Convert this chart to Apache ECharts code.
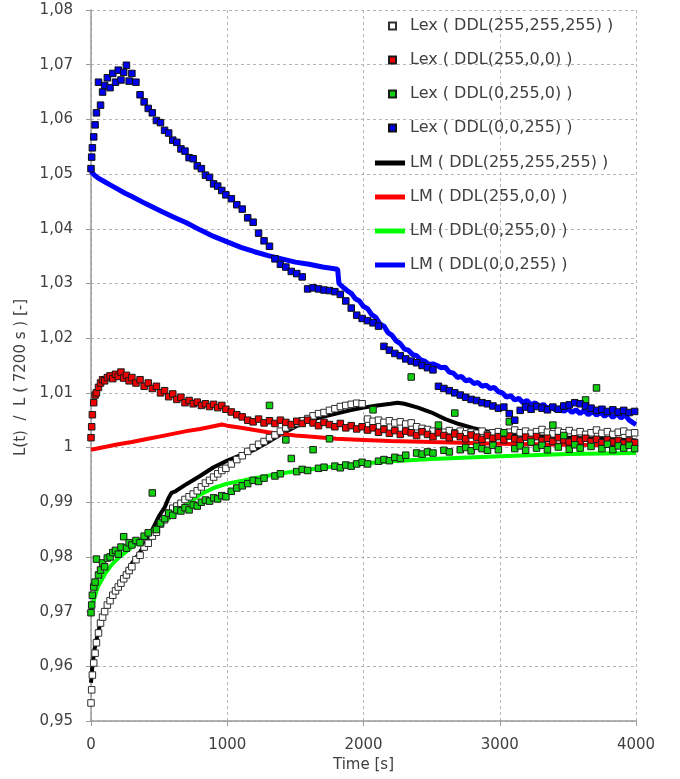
<!DOCTYPE html>
<html>
<head>
<meta charset="utf-8">
<script src="https://cdn.jsdelivr.net/npm/echarts@6/dist/echarts.min.js"></script>
<style>
html,body{margin:0;padding:0;background:#fff;}
#chart{width:680px;height:779px;}
</style>
</head>
<body>
<div id="chart"></div>
<script>
// ---- Data ----
// Sampling times of the measured (Lex) series, in s
var lexTime = [0,5,10,20,30,40,55,70,85,100,120,140,160,180,200,220,240,260,280,300,
330,360,390,420,450,480,510,540,570,600,630,660,690,720,750,780,810,840,870,900,930,960,990,
1030,1070,1110,1150,1190,1230,1270,1310,1350,1390,1430,1470,1510,1550,1590,1630,1670,1710,1750,1790,1830,1870,1910,1950,1990,
2030,2070,2110,2150,2190,2230,2270,2310,2350,2390,2430,2470,2510,2550,2590,2630,2670,2710,2750,2790,2830,2870,2910,2950,2990,
3030,3070,3110,3150,3190,3230,3270,3310,3350,3390,3430,3470,3510,3550,3590,3630,3670,3710,3750,3790,3830,3870,3910,3950,3990];

var lexWhite = [0.9533,0.9557,0.9584,0.9606,0.9624,0.9643,0.9661,0.9679,0.9690,0.9700,0.9712,0.9720,0.9730,0.9738,0.9745,0.9752,0.9760,0.9767,0.9775,0.9782,
0.9795,0.9803,0.9818,0.9825,0.9838,0.9845,0.9860,0.9868,0.9880,0.9889,0.9893,0.9898,0.9905,0.9910,0.9915,0.9921,0.9928,0.9935,0.9940,0.9946,0.9952,0.9958,0.9962,
0.9970,0.9978,0.9985,0.9993,1.0000,1.0006,1.0011,1.0018,1.0023,1.0030,1.0036,1.0040,1.0045,1.0049,1.0053,1.0058,1.0062,1.0064,1.0068,1.0071,1.0075,1.0077,1.0079,1.0081,1.0080,
1.0052,1.0048,1.0050,1.0046,1.0049,1.0045,1.0047,1.0043,1.0045,1.0038,1.0035,1.0033,1.0030,1.0032,1.0028,1.0031,1.0027,1.0030,1.0025,1.0028,1.0026,1.0030,1.0024,1.0027,1.0029,
1.0025,1.0028,1.0032,1.0027,1.0030,1.0026,1.0029,1.0033,1.0028,1.0025,1.0030,1.0027,1.0031,1.0026,1.0029,1.0024,1.0027,1.0032,1.0026,1.0029,1.0024,1.0028,1.0030,1.0026,1.0027];

var lexRed = [1.0018,1.0038,1.0060,1.0082,1.0096,1.0100,1.0110,1.0118,1.0124,1.0122,1.0128,1.0131,1.0126,1.0134,1.0130,1.0138,1.0127,1.0132,1.0122,1.0128,
1.0118,1.0124,1.0112,1.0118,1.0108,1.0112,1.0100,1.0104,1.0093,1.0098,1.0088,1.0092,1.0082,1.0086,1.0080,1.0083,1.0077,1.0080,1.0075,1.0079,1.0073,1.0077,1.0070,
1.0065,1.0060,1.0056,1.0050,1.0047,1.0052,1.0045,1.0049,1.0044,1.0050,1.0046,1.0042,1.0048,1.0044,1.0050,1.0045,1.0040,1.0046,1.0042,1.0038,1.0044,1.0036,1.0040,1.0034,1.0038,
1.0032,1.0036,1.0028,1.0033,1.0026,1.0031,1.0024,1.0030,1.0027,1.0022,1.0029,1.0024,1.0020,1.0027,1.0022,1.0018,1.0025,1.0020,1.0016,1.0023,1.0019,1.0015,1.0022,1.0017,1.0020,
1.0014,1.0021,1.0016,1.0012,1.0019,1.0015,1.0020,1.0013,1.0017,1.0011,1.0018,1.0014,1.0010,1.0016,1.0012,1.0017,1.0011,1.0015,1.0009,1.0014,1.0010,1.0013,1.0008,1.0012,1.0009];

var lexGreen = [0.9698,0.9712,0.9730,0.9745,0.9754,0.9796,0.9767,0.9776,0.9789,0.9782,0.9798,0.9800,0.9808,0.9812,0.9805,0.9818,0.9837,0.9816,0.9826,0.9822,
0.9830,0.9826,0.9838,0.9844,0.9917,0.9850,0.9862,0.9870,0.9880,0.9876,0.9886,0.9884,0.9890,0.9886,0.9895,0.9893,0.9900,0.9904,0.9902,0.9908,0.9906,0.9912,0.9910,
0.9920,0.9926,0.9930,0.9934,0.9940,0.9938,0.9944,1.0077,0.9948,0.9952,1.0014,0.9980,0.9956,0.9960,0.9958,0.9996,0.9962,0.9964,1.0016,0.9966,0.9963,0.9968,0.9966,0.9970,0.9973,
0.9970,1.0069,0.9975,0.9978,0.9976,0.9982,0.9980,0.9986,1.0129,0.9990,0.9988,0.9992,0.9990,1.0041,0.9995,0.9992,1.0063,0.9996,1.0000,0.9994,1.0002,0.9998,0.9995,1.0004,0.9996,
1.0027,1.0047,0.9998,1.0003,0.9995,1.0010,0.9999,1.0004,0.9996,1.0041,1.0001,1.0022,0.9997,1.0005,0.9999,1.0087,1.0002,1.0109,0.9998,1.0006,0.9996,1.0003,0.9999,1.0004,0.9998];

var lexBlue = [1.0510,1.0531,1.0548,1.0568,1.0590,1.0612,1.0668,1.0626,1.0650,1.0662,1.0676,1.0658,1.0684,1.0668,1.0690,1.0672,1.0686,1.0699,1.0670,1.0684,
1.0668,1.0645,1.0632,1.0620,1.0612,1.0598,1.0594,1.0580,1.0575,1.0562,1.0558,1.0546,1.0542,1.0530,1.0528,1.0515,1.0510,1.0498,1.0494,1.0482,1.0478,1.0470,1.0462,
1.0455,1.0444,1.0436,1.0420,1.0412,1.0392,1.0378,1.0368,1.0345,1.0335,1.0330,1.0322,1.0318,1.0312,1.0290,1.0292,1.0290,1.0288,1.0287,1.0285,1.0280,1.0268,1.0255,1.0242,1.0236,
1.0232,1.0228,1.0222,1.0185,1.0178,1.0172,1.0168,1.0162,1.0158,1.0155,1.0150,1.0146,1.0142,1.0112,1.0108,1.0104,1.0100,1.0096,1.0092,1.0088,1.0086,1.0082,1.0080,1.0076,1.0072,
1.0074,1.0062,1.0050,1.0068,1.0074,1.0070,1.0075,1.0072,1.0069,1.0074,1.0070,1.0076,1.0078,1.0082,1.0080,1.0076,1.0072,1.0068,1.0070,1.0066,1.0069,1.0065,1.0068,1.0064,1.0066];

// Model (LM) curves
var lmWhiteTime = [0,10,25,50,75,100,150,200,250,300,350,400,450,500,540,570,590,620,700,800,900,1000,1100,1200,1300,1400,1500,1600,1700,1800,1900,2000,2100,2200,2250,2300,2400,2500,2600,2700,2800,2900,3000,3200,3400,3600,3800,4000];
var lmWhite = [0.9570,0.9600,0.9630,0.9660,0.9685,0.9700,0.9725,0.9745,0.9768,0.9788,0.9805,0.9825,0.9850,0.9875,0.9890,0.9908,0.9917,0.9920,0.9933,0.9948,0.9964,0.9976,0.9986,0.9996,1.0010,1.0025,1.0038,1.0050,1.0056,1.0062,1.0068,1.0073,1.0077,1.0080,1.0082,1.0080,1.0073,1.0064,1.0052,1.0043,1.0036,1.0030,1.0026,1.0022,1.0019,1.0017,1.0015,1.0013];

var lmRedTime = [0,100,200,300,400,500,600,700,800,900,960,1000,1100,1200,1300,1400,1500,1600,1800,2000,2200,2500,3000,3500,4000];
var lmRed = [0.9996,1.0001,1.0006,1.0010,1.0015,1.0020,1.0025,1.0030,1.0034,1.0039,1.0042,1.0040,1.0036,1.0032,1.0028,1.0025,1.0022,1.0020,1.0016,1.0014,1.0012,1.0010,1.0007,1.0005,1.0004];

var lmGreenTime = [0,25,50,100,150,200,300,400,500,600,700,800,900,1000,1200,1400,1600,1800,2000,2200,2500,3000,3500,4000];
var lmGreen = [0.9700,0.9725,0.9745,0.9768,0.9785,0.9798,0.9818,0.9838,0.9857,0.9876,0.9895,0.9914,0.9926,0.9934,0.9944,0.9953,0.9960,0.9966,0.9971,0.9975,0.9979,0.9984,0.9988,0.9990];

var lmBlueTime = [0,25,50,100,150,200,250,300,400,500,600,700,800,900,1000,1100,1200,1300,1400,1500,1600,1700,1810,1820,
1850,1880,1910,1940,1970,2000,2030,2060,2090,2120,2150,2180,2210,2240,2270,2300,2330,2360,2390,2420,2450,2480,2510,2540,2570,2600,2630,2660,2690,2720,2750,2780,2810,2840,2870,2900,2930,2960,2990,
3020,3050,3080,3110,3140,3170,3200,3230,3260,3290,3320,3350,3380,3410,3440,3470,3500,3530,3560,3590,3620,3650,3680,3710,3740,3770,3800,3830,3860,3890,3920,3950,3980,4000];
var lmBlue = [1.0505,1.0498,1.0493,1.0486,1.0479,1.0472,1.0465,1.0459,1.0446,1.0434,1.0422,1.0411,1.0398,1.0386,1.0376,1.0366,1.0358,1.0351,1.0345,1.0339,1.0335,1.0330,1.0326,1.0300,
1.0293,1.0287,1.0282,1.0272,1.0268,1.0258,1.0254,1.0243,1.0238,1.0226,1.0222,1.0210,1.0205,1.0195,1.0190,1.0180,1.0178,1.0170,1.0168,1.0160,1.0158,1.0152,1.0153,1.0150,1.0146,1.0147,1.0138,1.0136,1.0128,1.0130,1.0122,1.0124,1.0117,1.0119,1.0112,1.0114,1.0108,1.0110,1.0102,
1.0100,1.0092,1.0095,1.0087,1.0090,1.0082,1.0086,1.0078,1.0082,1.0074,1.0079,1.0071,1.0076,1.0068,1.0073,1.0066,1.0071,1.0064,1.0069,1.0062,1.0068,1.0060,1.0066,1.0059,1.0064,1.0057,1.0063,1.0055,1.0062,1.0054,1.0060,1.0050,1.0045,1.0042];

var seriesNames = {
  lexW: 'Lex ( DDL(255,255,255) )',
  lexR: 'Lex ( DDL(255,0,0) )',
  lexG: 'Lex ( DDL(0,255,0) )',
  lexB: 'Lex ( DDL(0,0,255) )',
  lmW: 'LM ( DDL(255,255,255) )',
  lmR: 'LM ( DDL(255,0,0) )',
  lmG: 'LM ( DDL(0,255,0) )',
  lmB: 'LM ( DDL(0,0,255) )'
};
var xTitle = 'Time [s]';
var yTitle = 'L(t)  /  L ( 7200 s ) [-]';

// ---- Build ----
function pairs(t, v) { return t.map(function (x, i) { return [x, v[i]]; }); }

var FONT = 'DejaVu Sans';
var TXT = '#404040';

function scatter(name, vals, fill, border) {
  return {
    name: name, type: 'scatter', data: pairs(lexTime, vals),
    symbol: 'rect', symbolSize: 6.5, z: 3,
    itemStyle: { color: fill, borderColor: border, borderWidth: 1, opacity: 1 },
    emphasis: { disabled: true }
  };
}
function line(name, t, vals, color, w) {
  return {
    name: name, type: 'line', data: pairs(t, vals),
    symbol: 'none', showSymbol: false, z: 2,
    lineStyle: { color: color, width: w },
    itemStyle: { color: color },
    emphasis: { disabled: true }
  };
}

var chart = echarts.init(document.getElementById('chart'), null, { renderer: 'canvas' });
chart.setOption({
  animation: false,
  backgroundColor: '#ffffff',
  textStyle: { fontFamily: FONT },
  grid: { left: 91, right: 44, top: 10, bottom: 58, containLabel: false },
  legend: [
    {
      data: [seriesNames.lexW, seriesNames.lexR, seriesNames.lexG, seriesNames.lexB],
      orient: 'vertical', left: 388, top: 16, itemWidth: 7, itemHeight: 7, itemGap: 14,
      icon: 'rect',
      textStyle: { fontFamily: FONT, fontSize: 16, color: TXT, lineHeight: 20, padding: [0, 0, 0, 9] },
      selectedMode: false, padding: 0
    },
    {
      data: [seriesNames.lmW, seriesNames.lmR, seriesNames.lmG, seriesNames.lmB],
      orient: 'vertical', left: 375, top: 153, itemWidth: 30, itemHeight: 5, itemGap: 14,
      icon: 'rect',
      textStyle: { fontFamily: FONT, fontSize: 16, color: TXT, lineHeight: 20 },
      selectedMode: false, padding: 0
    }
  ],
  xAxis: {
    type: 'value', min: 0, max: 4000, interval: 1000,
    name: xTitle, nameLocation: 'middle', nameGap: 33,
    nameTextStyle: { fontFamily: FONT, fontSize: 15, color: TXT },
    axisLine: { show: true, lineStyle: { color: '#9a9a9a', width: 1.5 } },
    axisTick: { show: true, inside: false, length: 5, lineStyle: { color: '#9a9a9a' } },
    axisLabel: {
      fontFamily: FONT, fontSize: 15, color: TXT, margin: 17,
      formatter: function (v) { return String(Math.round(v)); }
    },
    splitLine: { show: true, lineStyle: { color: '#b4b4b4', type: [3, 3], width: 1 } }
  },
  yAxis: {
    type: 'value', min: 0.95, max: 1.08, interval: 0.01,
    name: yTitle, nameLocation: 'middle', nameGap: 58, nameRotate: 90,
    nameTextStyle: { fontFamily: FONT, fontSize: 15, color: TXT, padding: [0, 24, 0, 0] },
    axisLine: { show: true, onZero: false, lineStyle: { color: '#9a9a9a', width: 1.5 } },
    axisTick: { show: true, inside: false, length: 5, lineStyle: { color: '#9a9a9a' } },
    axisLabel: {
      fontFamily: FONT, fontSize: 15, color: TXT, margin: 18,
      formatter: function (v) {
        if (Math.abs(v - 1) < 1e-9) return '1';
        return v.toFixed(2).replace('.', ',');
      }
    },
    splitLine: { show: true, lineStyle: { color: '#b4b4b4', type: [3, 3], width: 1 } }
  },
  series: [
    scatter(seriesNames.lexW, lexWhite, '#ffffff', '#303030'),
    scatter(seriesNames.lexR, lexRed, '#ee0000', '#1a1a1a'),
    scatter(seriesNames.lexG, lexGreen, '#10d010', '#1a1a1a'),
    scatter(seriesNames.lexB, lexBlue, '#0000f0', '#101010'),
    line(seriesNames.lmW, lmWhiteTime, lmWhite, '#000000', 4),
    line(seriesNames.lmR, lmRedTime, lmRed, '#ff0000', 4),
    line(seriesNames.lmG, lmGreenTime, lmGreen, '#00ff00', 4),
    line(seriesNames.lmB, lmBlueTime, lmBlue, '#0000ff', 5)
  ]
});
</script>
</body>
</html>
